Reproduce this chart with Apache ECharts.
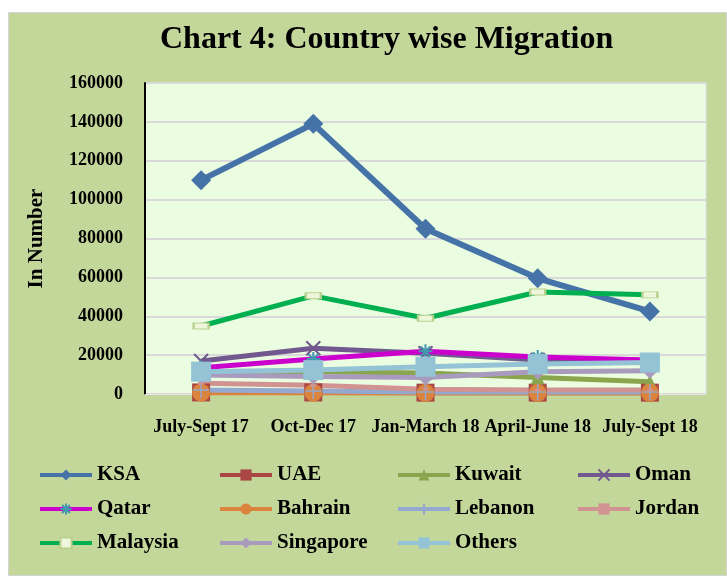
<!DOCTYPE html>
<html><head><meta charset="utf-8">
<script src="https://cdn.jsdelivr.net/npm/echarts@6/dist/echarts.min.js"></script>
<style>
html,body{margin:0;padding:0;background:#fff;}
#bg{position:absolute;left:8px;top:12px;width:717px;height:562px;background:#c4d79b;border:1px solid #d4d4d4;}
#c{position:absolute;left:0;top:0;width:727px;height:576px;}
</style></head>
<body>
<div id="bg"></div>
<div id="c"></div>
<script>
const categories = ['July-Sept 17','Oct-Dec 17','Jan-March 18','April-June 18','July-Sept 18'];
const KSA       = [110000, 139000, 85000, 59500, 42500];
const UAE       = [800, 800, 700, 700, 700];
const Kuwait    = [11500, 11500, 10800, 8500, 6300];
const Oman      = [17000, 23500, 21000, 17500, 17000];
const Qatar     = [13500, 18000, 22000, 19000, 17500];
const Bahrain   = [700, 700, 600, 600, 600];
const Lebanon   = [2000, 1500, 1000, 1000, 1000];
const Jordan    = [5500, 4500, 2500, 2000, 2000];
const Malaysia  = [35000, 50500, 39000, 52500, 51000];
const Singapore = [9800, 9000, 8500, 11500, 12000];
const Others    = [11500, 12300, 14000, 15400, 16200];
const yTicks = {min: 0, max: 160000, interval: 20000};

const F = 'Liberation Serif';
const chart = echarts.init(document.getElementById('c'), null, {renderer:'canvas'});

function s(name, data, color, symbol, size, extra) {
  const o = {
    name, type:'line', data, symbol, symbolSize:size, showAllSymbol:true,
    lineStyle:{color, width:5}, itemStyle:{color}, z:2, animation:false
  };
  return Object.assign(o, extra || {});
}
const X = 'path://M0,0L10,10M10,0L0,10';
const AST = 'path://M0,5L10,5M5,0L5,10M1.5,1.5L8.5,8.5M8.5,1.5L1.5,8.5';
const PLUS = 'path://M0,5L10,5M5,0L5,10';

const series = [
  s('KSA', KSA, '#4572a7', 'diamond', 20, {lineStyle:{color:'#4572a7', width:6}}),
  s('UAE', UAE, '#aa4643', 'rect', 18),
  s('Kuwait', Kuwait, '#89a54e', 'triangle', 14),
  s('Oman', Oman, '#71588f', X, 14, {itemStyle:{color:'transparent', borderColor:'#71588f', borderWidth:2}}),
  s('Qatar', Qatar, '#cc00cc', AST, 14, {itemStyle:{color:'transparent', borderColor:'#4198af', borderWidth:2}}),
  s('Bahrain', Bahrain, '#db843d', 'circle', 18),
  s('Lebanon', Lebanon, '#93a9cf', PLUS, 16, {itemStyle:{color:'transparent', borderColor:'#93a9cf', borderWidth:1.5}}),
  s('Jordan', Jordan, '#d19392', 'rect', [6,3]),
  s('Malaysia', Malaysia, '#00b050', 'rect', [15,6], {itemStyle:{color:'#eef7dc', borderColor:'#b9cf8c', borderWidth:1.5}}),
  s('Singapore', Singapore, '#a99bbd', 'diamond', 16),
  s('Others', Others, '#93c3d5', 'rect', 20)
];

const legendCols = [
  ['KSA','Qatar','Malaysia'],
  ['UAE','Bahrain','Singapore'],
  ['Kuwait','Lebanon','Others'],
  ['Oman','Jordan']
];
const legendLefts = [38, 218, 396, 576];
const legends = legendCols.map((d,i)=>({
  data:d, orient:'vertical', left:legendLefts[i], top:464, itemWidth:52, itemHeight:14, itemGap:12,
  selectedMode:false, padding:0, lineStyle:{width:4},
  textStyle:{fontFamily:F, fontWeight:'bold', fontSize:21, color:'#000', lineHeight:22}
}));

chart.setOption({
  animation:false,
  title:{text:'Chart 4: Country wise Migration', left:155, top:19,
    textStyle:{fontFamily:F, fontWeight:'bold', fontSize:32, color:'#000'}},
  legend: legends,
  grid:{left:145, right:21, top:83, bottom:182, show:true, backgroundColor:'#ebfde1', borderColor:'#dde6ee', borderWidth:1},
  xAxis:{type:'category', data:categories, boundaryGap:true,
    axisLine:{show:true, lineStyle:{color:'#e6e6e6', width:1}}, axisTick:{show:false},
    axisLabel:{fontFamily:F, fontWeight:'bold', fontSize:18, color:'#000', margin:24, interval:0}},
  yAxis:{type:'value', min:yTicks.min, max:yTicks.max, interval:yTicks.interval,
    name:'In Number', nameLocation:'middle', nameGap:98,
    nameTextStyle:{fontFamily:F, fontWeight:'bold', fontSize:21, color:'#000'},
    axisLine:{show:true, lineStyle:{color:'#000', width:2}}, axisTick:{show:false},
    splitLine:{lineStyle:{color:'#d9d9d9', width:2}},
    axisLabel:{fontFamily:F, fontWeight:'bold', fontSize:18, color:'#000', margin:22, formatter: v => String(v)}},
  series
});
</script>
</body></html>
